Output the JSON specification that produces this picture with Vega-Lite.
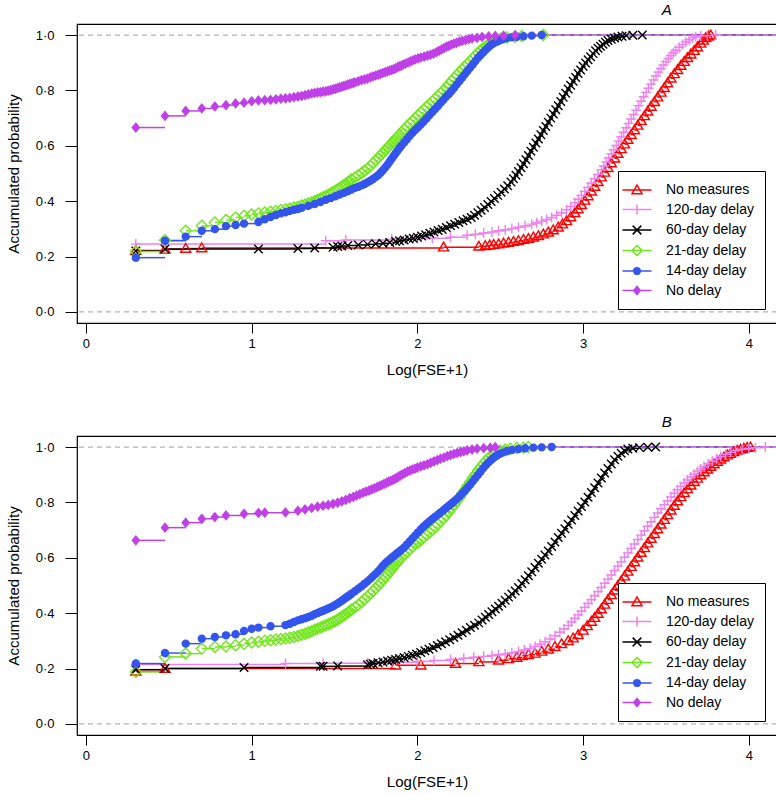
{
"$schema": "https://vega.github.io/schema/vega-lite/v6.json",
"background": "white",
"padding": {"left": 5, "top": 2, "right": 1, "bottom": 2},
"spacing": 113,
"bounds": "flush",
"resolve": {
  "scale": {"color": "independent", "fill": "independent", "shape": "independent", "stroke": "independent"},
  "legend": {"color": "independent", "fill": "independent", "shape": "independent", "stroke": "independent"}
},
"config": {
  "font": "Liberation Sans",
  "view": {"stroke": "black", "strokeWidth": 1.2},
  "axis": {"grid": false, "domain": false, "tickColor": "black", "labelColor": "black", "titleColor": "black", "labelFontSize": 13, "titleFontSize": 15, "titleFontWeight": "normal", "tickWidth": 1}
},
"datasets": {
"a": [
{"s":"nm","x":0.301,"y":0.222},{"s":"nm","x":0.477,"y":0.226},{"s":"nm","x":0.602,"y":0.229},{"s":"nm","x":0.699,"y":0.231},{"s":"nm","x":2.158,"y":0.234},{"s":"nm","x":2.371,"y":0.237},{"s":"nm","x":2.41,"y":0.239},{"s":"nm","x":2.436,"y":0.241},{"s":"nm","x":2.46,"y":0.243},{"s":"nm","x":2.49,"y":0.245},{"s":"nm","x":2.52,"y":0.248},{"s":"nm","x":2.55,"y":0.251},{"s":"nm","x":2.58,"y":0.254},{"s":"nm","x":2.61,"y":0.257},{"s":"nm","x":2.64,"y":0.261},{"s":"nm","x":2.67,"y":0.265},{"s":"nm","x":2.7,"y":0.27},{"s":"nm","x":2.73,"y":0.275},{"s":"nm","x":2.76,"y":0.281},{"s":"nm","x":2.79,"y":0.288},{"s":"nm","x":2.82,"y":0.296},{"s":"nm","x":2.85,"y":0.306},{"s":"nm","x":2.875,"y":0.317},{"s":"nm","x":2.9,"y":0.329},{"s":"nm","x":2.925,"y":0.343},{"s":"nm","x":2.95,"y":0.358},{"s":"nm","x":2.97,"y":0.372},{"s":"nm","x":2.99,"y":0.387},{"s":"nm","x":3.01,"y":0.403},{"s":"nm","x":3.03,"y":0.419},{"s":"nm","x":3.05,"y":0.436},{"s":"nm","x":3.07,"y":0.453},{"s":"nm","x":3.09,"y":0.47},{"s":"nm","x":3.11,"y":0.487},{"s":"nm","x":3.13,"y":0.504},{"s":"nm","x":3.15,"y":0.521},{"s":"nm","x":3.17,"y":0.538},{"s":"nm","x":3.19,"y":0.555},{"s":"nm","x":3.21,"y":0.572},{"s":"nm","x":3.23,"y":0.589},{"s":"nm","x":3.25,"y":0.606},{"s":"nm","x":3.27,"y":0.623},{"s":"nm","x":3.29,"y":0.64},{"s":"nm","x":3.31,"y":0.657},{"s":"nm","x":3.33,"y":0.674},{"s":"nm","x":3.35,"y":0.691},{"s":"nm","x":3.37,"y":0.708},{"s":"nm","x":3.39,"y":0.725},{"s":"nm","x":3.41,"y":0.742},{"s":"nm","x":3.43,"y":0.759},{"s":"nm","x":3.45,"y":0.776},{"s":"nm","x":3.47,"y":0.793},{"s":"nm","x":3.49,"y":0.81},{"s":"nm","x":3.51,"y":0.827},{"s":"nm","x":3.53,"y":0.844},{"s":"nm","x":3.55,"y":0.86},{"s":"nm","x":3.57,"y":0.875},{"s":"nm","x":3.59,"y":0.89},{"s":"nm","x":3.61,"y":0.904},{"s":"nm","x":3.63,"y":0.918},{"s":"nm","x":3.65,"y":0.931},{"s":"nm","x":3.67,"y":0.944},{"s":"nm","x":3.69,"y":0.957},{"s":"nm","x":3.71,"y":0.97},{"s":"nm","x":3.725,"y":0.981},{"s":"nm","x":3.74,"y":0.99},{"s":"nm","x":3.755,"y":0.996},{"s":"nm","x":3.77,"y":1.0},
{"s":"d120","x":0.301,"y":0.245},{"s":"d120","x":1.447,"y":0.257},{"s":"d120","x":1.568,"y":0.26},{"s":"d120","x":1.845,"y":0.263},{"s":"d120","x":2.0,"y":0.265},{"s":"d120","x":2.09,"y":0.266},{"s":"d120","x":2.2,"y":0.27},{"s":"d120","x":2.3,"y":0.277},{"s":"d120","x":2.35,"y":0.281},{"s":"d120","x":2.4,"y":0.285},{"s":"d120","x":2.45,"y":0.289},{"s":"d120","x":2.49,"y":0.293},{"s":"d120","x":2.53,"y":0.297},{"s":"d120","x":2.57,"y":0.301},{"s":"d120","x":2.61,"y":0.306},{"s":"d120","x":2.65,"y":0.311},{"s":"d120","x":2.69,"y":0.317},{"s":"d120","x":2.72,"y":0.322},{"s":"d120","x":2.75,"y":0.328},{"s":"d120","x":2.78,"y":0.334},{"s":"d120","x":2.81,"y":0.341},{"s":"d120","x":2.84,"y":0.349},{"s":"d120","x":2.87,"y":0.358},{"s":"d120","x":2.9,"y":0.369},{"s":"d120","x":2.925,"y":0.381},{"s":"d120","x":2.95,"y":0.394},{"s":"d120","x":2.97,"y":0.407},{"s":"d120","x":2.99,"y":0.421},{"s":"d120","x":3.01,"y":0.435},{"s":"d120","x":3.03,"y":0.45},{"s":"d120","x":3.05,"y":0.465},{"s":"d120","x":3.07,"y":0.481},{"s":"d120","x":3.09,"y":0.497},{"s":"d120","x":3.11,"y":0.513},{"s":"d120","x":3.125,"y":0.527},{"s":"d120","x":3.14,"y":0.541},{"s":"d120","x":3.155,"y":0.556},{"s":"d120","x":3.17,"y":0.571},{"s":"d120","x":3.185,"y":0.586},{"s":"d120","x":3.2,"y":0.601},{"s":"d120","x":3.215,"y":0.617},{"s":"d120","x":3.23,"y":0.633},{"s":"d120","x":3.245,"y":0.649},{"s":"d120","x":3.26,"y":0.665},{"s":"d120","x":3.275,"y":0.681},{"s":"d120","x":3.29,"y":0.697},{"s":"d120","x":3.305,"y":0.713},{"s":"d120","x":3.32,"y":0.729},{"s":"d120","x":3.335,"y":0.745},{"s":"d120","x":3.35,"y":0.761},{"s":"d120","x":3.365,"y":0.777},{"s":"d120","x":3.38,"y":0.793},{"s":"d120","x":3.395,"y":0.808},{"s":"d120","x":3.41,"y":0.823},{"s":"d120","x":3.425,"y":0.838},{"s":"d120","x":3.44,"y":0.852},{"s":"d120","x":3.455,"y":0.866},{"s":"d120","x":3.47,"y":0.879},{"s":"d120","x":3.485,"y":0.892},{"s":"d120","x":3.5,"y":0.904},{"s":"d120","x":3.515,"y":0.915},{"s":"d120","x":3.53,"y":0.926},{"s":"d120","x":3.545,"y":0.936},{"s":"d120","x":3.56,"y":0.945},{"s":"d120","x":3.58,"y":0.956},{"s":"d120","x":3.6,"y":0.966},{"s":"d120","x":3.62,"y":0.975},{"s":"d120","x":3.64,"y":0.983},{"s":"d120","x":3.66,"y":0.989},{"s":"d120","x":3.68,"y":0.994},{"s":"d120","x":3.71,"y":0.997},{"s":"d120","x":3.75,"y":0.998},{"s":"d120","x":3.8,"y":1.0},
{"s":"d60","x":0.301,"y":0.22},{"s":"d60","x":0.477,"y":0.227},{"s":"d60","x":1.041,"y":0.227},{"s":"d60","x":1.279,"y":0.229},{"s":"d60","x":1.38,"y":0.231},{"s":"d60","x":1.491,"y":0.234},{"s":"d60","x":1.519,"y":0.236},{"s":"d60","x":1.544,"y":0.238},{"s":"d60","x":1.58,"y":0.24},{"s":"d60","x":1.643,"y":0.242},{"s":"d60","x":1.699,"y":0.244},{"s":"d60","x":1.748,"y":0.246},{"s":"d60","x":1.792,"y":0.248},{"s":"d60","x":1.833,"y":0.251},{"s":"d60","x":1.869,"y":0.254},{"s":"d60","x":1.892,"y":0.257},{"s":"d60","x":1.92,"y":0.26},{"s":"d60","x":1.95,"y":0.263},{"s":"d60","x":1.975,"y":0.266},{"s":"d60","x":2.0,"y":0.27},{"s":"d60","x":2.025,"y":0.274},{"s":"d60","x":2.05,"y":0.279},{"s":"d60","x":2.075,"y":0.284},{"s":"d60","x":2.1,"y":0.289},{"s":"d60","x":2.125,"y":0.294},{"s":"d60","x":2.15,"y":0.299},{"s":"d60","x":2.175,"y":0.305},{"s":"d60","x":2.2,"y":0.311},{"s":"d60","x":2.225,"y":0.317},{"s":"d60","x":2.25,"y":0.323},{"s":"d60","x":2.275,"y":0.329},{"s":"d60","x":2.3,"y":0.335},{"s":"d60","x":2.325,"y":0.341},{"s":"d60","x":2.345,"y":0.349},{"s":"d60","x":2.365,"y":0.358},{"s":"d60","x":2.385,"y":0.367},{"s":"d60","x":2.405,"y":0.377},{"s":"d60","x":2.425,"y":0.388},{"s":"d60","x":2.445,"y":0.399},{"s":"d60","x":2.465,"y":0.41},{"s":"d60","x":2.485,"y":0.421},{"s":"d60","x":2.505,"y":0.432},{"s":"d60","x":2.525,"y":0.444},{"s":"d60","x":2.545,"y":0.456},{"s":"d60","x":2.565,"y":0.469},{"s":"d60","x":2.58,"y":0.481},{"s":"d60","x":2.595,"y":0.494},{"s":"d60","x":2.61,"y":0.507},{"s":"d60","x":2.625,"y":0.521},{"s":"d60","x":2.64,"y":0.535},{"s":"d60","x":2.655,"y":0.55},{"s":"d60","x":2.67,"y":0.565},{"s":"d60","x":2.685,"y":0.58},{"s":"d60","x":2.7,"y":0.595},{"s":"d60","x":2.715,"y":0.61},{"s":"d60","x":2.73,"y":0.625},{"s":"d60","x":2.745,"y":0.64},{"s":"d60","x":2.76,"y":0.655},{"s":"d60","x":2.775,"y":0.67},{"s":"d60","x":2.79,"y":0.685},{"s":"d60","x":2.805,"y":0.7},{"s":"d60","x":2.82,"y":0.715},{"s":"d60","x":2.835,"y":0.73},{"s":"d60","x":2.85,"y":0.745},{"s":"d60","x":2.865,"y":0.76},{"s":"d60","x":2.88,"y":0.775},{"s":"d60","x":2.895,"y":0.79},{"s":"d60","x":2.91,"y":0.805},{"s":"d60","x":2.925,"y":0.819},{"s":"d60","x":2.94,"y":0.833},{"s":"d60","x":2.955,"y":0.847},{"s":"d60","x":2.97,"y":0.861},{"s":"d60","x":2.985,"y":0.874},{"s":"d60","x":3.0,"y":0.887},{"s":"d60","x":3.015,"y":0.899},{"s":"d60","x":3.03,"y":0.911},{"s":"d60","x":3.045,"y":0.922},{"s":"d60","x":3.06,"y":0.933},{"s":"d60","x":3.075,"y":0.943},{"s":"d60","x":3.09,"y":0.952},{"s":"d60","x":3.105,"y":0.96},{"s":"d60","x":3.12,"y":0.967},{"s":"d60","x":3.135,"y":0.974},{"s":"d60","x":3.15,"y":0.98},{"s":"d60","x":3.17,"y":0.985},{"s":"d60","x":3.19,"y":0.989},{"s":"d60","x":3.21,"y":0.993},{"s":"d60","x":3.235,"y":0.996},{"s":"d60","x":3.26,"y":0.998},{"s":"d60","x":3.3,"y":0.999},{"s":"d60","x":3.357,"y":1.0},
{"s":"d21","x":0.301,"y":0.218},{"s":"d21","x":0.477,"y":0.259},{"s":"d21","x":0.602,"y":0.293},{"s":"d21","x":0.699,"y":0.311},{"s":"d21","x":0.778,"y":0.323},{"s":"d21","x":0.845,"y":0.332},{"s":"d21","x":0.903,"y":0.341},{"s":"d21","x":0.954,"y":0.347},{"s":"d21","x":1.0,"y":0.352},{"s":"d21","x":1.041,"y":0.356},{"s":"d21","x":1.079,"y":0.359},{"s":"d21","x":1.114,"y":0.362},{"s":"d21","x":1.146,"y":0.365},{"s":"d21","x":1.176,"y":0.368},{"s":"d21","x":1.204,"y":0.371},{"s":"d21","x":1.23,"y":0.374},{"s":"d21","x":1.255,"y":0.377},{"s":"d21","x":1.279,"y":0.38},{"s":"d21","x":1.301,"y":0.384},{"s":"d21","x":1.322,"y":0.388},{"s":"d21","x":1.342,"y":0.392},{"s":"d21","x":1.362,"y":0.396},{"s":"d21","x":1.38,"y":0.4},{"s":"d21","x":1.398,"y":0.405},{"s":"d21","x":1.415,"y":0.41},{"s":"d21","x":1.431,"y":0.414},{"s":"d21","x":1.447,"y":0.418},{"s":"d21","x":1.462,"y":0.423},{"s":"d21","x":1.477,"y":0.428},{"s":"d21","x":1.491,"y":0.433},{"s":"d21","x":1.505,"y":0.438},{"s":"d21","x":1.519,"y":0.443},{"s":"d21","x":1.531,"y":0.448},{"s":"d21","x":1.544,"y":0.453},{"s":"d21","x":1.556,"y":0.458},{"s":"d21","x":1.568,"y":0.463},{"s":"d21","x":1.58,"y":0.468},{"s":"d21","x":1.591,"y":0.473},{"s":"d21","x":1.602,"y":0.478},{"s":"d21","x":1.623,"y":0.486},{"s":"d21","x":1.643,"y":0.494},{"s":"d21","x":1.663,"y":0.502},{"s":"d21","x":1.681,"y":0.51},{"s":"d21","x":1.699,"y":0.518},{"s":"d21","x":1.716,"y":0.527},{"s":"d21","x":1.732,"y":0.537},{"s":"d21","x":1.748,"y":0.547},{"s":"d21","x":1.763,"y":0.557},{"s":"d21","x":1.778,"y":0.566},{"s":"d21","x":1.792,"y":0.575},{"s":"d21","x":1.806,"y":0.584},{"s":"d21","x":1.82,"y":0.593},{"s":"d21","x":1.833,"y":0.602},{"s":"d21","x":1.845,"y":0.61},{"s":"d21","x":1.857,"y":0.618},{"s":"d21","x":1.869,"y":0.626},{"s":"d21","x":1.881,"y":0.634},{"s":"d21","x":1.892,"y":0.641},{"s":"d21","x":1.903,"y":0.648},{"s":"d21","x":1.92,"y":0.659},{"s":"d21","x":1.937,"y":0.67},{"s":"d21","x":1.954,"y":0.68},{"s":"d21","x":1.97,"y":0.69},{"s":"d21","x":1.987,"y":0.7},{"s":"d21","x":2.004,"y":0.71},{"s":"d21","x":2.021,"y":0.72},{"s":"d21","x":2.038,"y":0.73},{"s":"d21","x":2.055,"y":0.74},{"s":"d21","x":2.072,"y":0.75},{"s":"d21","x":2.09,"y":0.76},{"s":"d21","x":2.107,"y":0.77},{"s":"d21","x":2.124,"y":0.78},{"s":"d21","x":2.14,"y":0.79},{"s":"d21","x":2.157,"y":0.8},{"s":"d21","x":2.173,"y":0.811},{"s":"d21","x":2.19,"y":0.822},{"s":"d21","x":2.206,"y":0.834},{"s":"d21","x":2.222,"y":0.845},{"s":"d21","x":2.238,"y":0.856},{"s":"d21","x":2.254,"y":0.866},{"s":"d21","x":2.27,"y":0.876},{"s":"d21","x":2.286,"y":0.886},{"s":"d21","x":2.302,"y":0.896},{"s":"d21","x":2.318,"y":0.906},{"s":"d21","x":2.334,"y":0.916},{"s":"d21","x":2.35,"y":0.926},{"s":"d21","x":2.366,"y":0.936},{"s":"d21","x":2.382,"y":0.945},{"s":"d21","x":2.398,"y":0.953},{"s":"d21","x":2.414,"y":0.96},{"s":"d21","x":2.43,"y":0.967},{"s":"d21","x":2.446,"y":0.973},{"s":"d21","x":2.462,"y":0.978},{"s":"d21","x":2.478,"y":0.983},{"s":"d21","x":2.5,"y":0.987},{"s":"d21","x":2.54,"y":0.991},{"s":"d21","x":2.59,"y":0.994},{"s":"d21","x":2.63,"y":0.997},{"s":"d21","x":2.76,"y":1.0},
{"s":"d14","x":0.301,"y":0.196},{"s":"d14","x":0.477,"y":0.257},{"s":"d14","x":0.602,"y":0.272},{"s":"d14","x":0.699,"y":0.293},{"s":"d14","x":0.778,"y":0.299},{"s":"d14","x":0.845,"y":0.31},{"s":"d14","x":0.903,"y":0.314},{"s":"d14","x":0.954,"y":0.319},{"s":"d14","x":1.041,"y":0.325},{"s":"d14","x":1.079,"y":0.335},{"s":"d14","x":1.114,"y":0.343},{"s":"d14","x":1.146,"y":0.35},{"s":"d14","x":1.176,"y":0.356},{"s":"d14","x":1.204,"y":0.36},{"s":"d14","x":1.23,"y":0.365},{"s":"d14","x":1.255,"y":0.369},{"s":"d14","x":1.279,"y":0.372},{"s":"d14","x":1.301,"y":0.376},{"s":"d14","x":1.342,"y":0.383},{"s":"d14","x":1.38,"y":0.39},{"s":"d14","x":1.415,"y":0.397},{"s":"d14","x":1.447,"y":0.405},{"s":"d14","x":1.477,"y":0.411},{"s":"d14","x":1.505,"y":0.418},{"s":"d14","x":1.531,"y":0.424},{"s":"d14","x":1.556,"y":0.43},{"s":"d14","x":1.58,"y":0.436},{"s":"d14","x":1.602,"y":0.442},{"s":"d14","x":1.623,"y":0.448},{"s":"d14","x":1.643,"y":0.452},{"s":"d14","x":1.663,"y":0.457},{"s":"d14","x":1.681,"y":0.462},{"s":"d14","x":1.699,"y":0.468},{"s":"d14","x":1.716,"y":0.474},{"s":"d14","x":1.732,"y":0.48},{"s":"d14","x":1.748,"y":0.487},{"s":"d14","x":1.763,"y":0.494},{"s":"d14","x":1.778,"y":0.503},{"s":"d14","x":1.792,"y":0.512},{"s":"d14","x":1.806,"y":0.522},{"s":"d14","x":1.82,"y":0.532},{"s":"d14","x":1.833,"y":0.543},{"s":"d14","x":1.845,"y":0.553},{"s":"d14","x":1.857,"y":0.563},{"s":"d14","x":1.869,"y":0.573},{"s":"d14","x":1.881,"y":0.583},{"s":"d14","x":1.892,"y":0.592},{"s":"d14","x":1.903,"y":0.6},{"s":"d14","x":1.92,"y":0.612},{"s":"d14","x":1.937,"y":0.624},{"s":"d14","x":1.954,"y":0.636},{"s":"d14","x":1.97,"y":0.647},{"s":"d14","x":1.987,"y":0.657},{"s":"d14","x":2.004,"y":0.667},{"s":"d14","x":2.021,"y":0.677},{"s":"d14","x":2.038,"y":0.688},{"s":"d14","x":2.055,"y":0.699},{"s":"d14","x":2.072,"y":0.71},{"s":"d14","x":2.09,"y":0.722},{"s":"d14","x":2.107,"y":0.733},{"s":"d14","x":2.124,"y":0.744},{"s":"d14","x":2.14,"y":0.755},{"s":"d14","x":2.157,"y":0.766},{"s":"d14","x":2.173,"y":0.777},{"s":"d14","x":2.19,"y":0.787},{"s":"d14","x":2.206,"y":0.798},{"s":"d14","x":2.222,"y":0.81},{"s":"d14","x":2.238,"y":0.822},{"s":"d14","x":2.254,"y":0.834},{"s":"d14","x":2.27,"y":0.846},{"s":"d14","x":2.286,"y":0.858},{"s":"d14","x":2.302,"y":0.87},{"s":"d14","x":2.318,"y":0.882},{"s":"d14","x":2.334,"y":0.894},{"s":"d14","x":2.35,"y":0.906},{"s":"d14","x":2.366,"y":0.918},{"s":"d14","x":2.382,"y":0.928},{"s":"d14","x":2.398,"y":0.938},{"s":"d14","x":2.414,"y":0.948},{"s":"d14","x":2.43,"y":0.957},{"s":"d14","x":2.446,"y":0.965},{"s":"d14","x":2.462,"y":0.971},{"s":"d14","x":2.478,"y":0.976},{"s":"d14","x":2.495,"y":0.981},{"s":"d14","x":2.515,"y":0.985},{"s":"d14","x":2.54,"y":0.989},{"s":"d14","x":2.57,"y":0.992},{"s":"d14","x":2.6,"y":0.994},{"s":"d14","x":2.64,"y":0.996},{"s":"d14","x":2.69,"y":0.998},{"s":"d14","x":2.75,"y":1.0},
{"s":"nd","x":0.301,"y":0.666},{"s":"nd","x":0.477,"y":0.708},{"s":"nd","x":0.602,"y":0.726},{"s":"nd","x":0.699,"y":0.735},{"s":"nd","x":0.778,"y":0.742},{"s":"nd","x":0.845,"y":0.747},{"s":"nd","x":0.903,"y":0.753},{"s":"nd","x":0.954,"y":0.756},{"s":"nd","x":1.0,"y":0.761},{"s":"nd","x":1.041,"y":0.764},{"s":"nd","x":1.079,"y":0.765},{"s":"nd","x":1.114,"y":0.766},{"s":"nd","x":1.146,"y":0.768},{"s":"nd","x":1.176,"y":0.77},{"s":"nd","x":1.204,"y":0.771},{"s":"nd","x":1.23,"y":0.773},{"s":"nd","x":1.255,"y":0.776},{"s":"nd","x":1.279,"y":0.778},{"s":"nd","x":1.301,"y":0.78},{"s":"nd","x":1.322,"y":0.783},{"s":"nd","x":1.342,"y":0.786},{"s":"nd","x":1.362,"y":0.789},{"s":"nd","x":1.38,"y":0.791},{"s":"nd","x":1.398,"y":0.793},{"s":"nd","x":1.415,"y":0.794},{"s":"nd","x":1.431,"y":0.796},{"s":"nd","x":1.447,"y":0.797},{"s":"nd","x":1.462,"y":0.799},{"s":"nd","x":1.477,"y":0.801},{"s":"nd","x":1.491,"y":0.804},{"s":"nd","x":1.505,"y":0.806},{"s":"nd","x":1.519,"y":0.809},{"s":"nd","x":1.531,"y":0.811},{"s":"nd","x":1.544,"y":0.814},{"s":"nd","x":1.556,"y":0.816},{"s":"nd","x":1.568,"y":0.818},{"s":"nd","x":1.58,"y":0.821},{"s":"nd","x":1.591,"y":0.823},{"s":"nd","x":1.602,"y":0.825},{"s":"nd","x":1.613,"y":0.827},{"s":"nd","x":1.623,"y":0.829},{"s":"nd","x":1.643,"y":0.833},{"s":"nd","x":1.663,"y":0.837},{"s":"nd","x":1.681,"y":0.84},{"s":"nd","x":1.699,"y":0.843},{"s":"nd","x":1.716,"y":0.847},{"s":"nd","x":1.732,"y":0.851},{"s":"nd","x":1.748,"y":0.854},{"s":"nd","x":1.763,"y":0.857},{"s":"nd","x":1.778,"y":0.86},{"s":"nd","x":1.792,"y":0.863},{"s":"nd","x":1.806,"y":0.866},{"s":"nd","x":1.82,"y":0.869},{"s":"nd","x":1.833,"y":0.872},{"s":"nd","x":1.845,"y":0.874},{"s":"nd","x":1.857,"y":0.877},{"s":"nd","x":1.869,"y":0.88},{"s":"nd","x":1.881,"y":0.884},{"s":"nd","x":1.892,"y":0.887},{"s":"nd","x":1.903,"y":0.89},{"s":"nd","x":1.914,"y":0.893},{"s":"nd","x":1.929,"y":0.897},{"s":"nd","x":1.944,"y":0.901},{"s":"nd","x":1.959,"y":0.905},{"s":"nd","x":1.973,"y":0.909},{"s":"nd","x":1.987,"y":0.912},{"s":"nd","x":2.004,"y":0.916},{"s":"nd","x":2.021,"y":0.919},{"s":"nd","x":2.041,"y":0.922},{"s":"nd","x":2.061,"y":0.926},{"s":"nd","x":2.079,"y":0.929},{"s":"nd","x":2.097,"y":0.933},{"s":"nd","x":2.114,"y":0.938},{"s":"nd","x":2.13,"y":0.943},{"s":"nd","x":2.146,"y":0.948},{"s":"nd","x":2.161,"y":0.953},{"s":"nd","x":2.176,"y":0.958},{"s":"nd","x":2.19,"y":0.961},{"s":"nd","x":2.204,"y":0.965},{"s":"nd","x":2.22,"y":0.969},{"s":"nd","x":2.236,"y":0.972},{"s":"nd","x":2.253,"y":0.976},{"s":"nd","x":2.27,"y":0.979},{"s":"nd","x":2.29,"y":0.982},{"s":"nd","x":2.31,"y":0.985},{"s":"nd","x":2.33,"y":0.988},{"s":"nd","x":2.36,"y":0.99},{"s":"nd","x":2.39,"y":0.993},{"s":"nd","x":2.43,"y":0.995},{"s":"nd","x":2.47,"y":0.997},{"s":"nd","x":2.52,"y":0.998},{"s":"nd","x":2.59,"y":1.0}
],
"b": [
{"s":"nm","x":0.301,"y":0.19},{"s":"nm","x":0.477,"y":0.2},{"s":"nm","x":1.869,"y":0.212},{"s":"nm","x":2.021,"y":0.212},{"s":"nm","x":2.23,"y":0.218},{"s":"nm","x":2.371,"y":0.224},{"s":"nm","x":2.49,"y":0.23},{"s":"nm","x":2.55,"y":0.235},{"s":"nm","x":2.6,"y":0.24},{"s":"nm","x":2.633,"y":0.246},{"s":"nm","x":2.67,"y":0.25},{"s":"nm","x":2.71,"y":0.255},{"s":"nm","x":2.75,"y":0.262},{"s":"nm","x":2.79,"y":0.27},{"s":"nm","x":2.83,"y":0.279},{"s":"nm","x":2.87,"y":0.289},{"s":"nm","x":2.91,"y":0.3},{"s":"nm","x":2.94,"y":0.31},{"s":"nm","x":2.97,"y":0.322},{"s":"nm","x":3.0,"y":0.338},{"s":"nm","x":3.025,"y":0.354},{"s":"nm","x":3.05,"y":0.37},{"s":"nm","x":3.07,"y":0.384},{"s":"nm","x":3.09,"y":0.399},{"s":"nm","x":3.11,"y":0.415},{"s":"nm","x":3.13,"y":0.432},{"s":"nm","x":3.15,"y":0.449},{"s":"nm","x":3.17,"y":0.466},{"s":"nm","x":3.19,"y":0.483},{"s":"nm","x":3.21,"y":0.5},{"s":"nm","x":3.23,"y":0.517},{"s":"nm","x":3.25,"y":0.534},{"s":"nm","x":3.27,"y":0.551},{"s":"nm","x":3.29,"y":0.568},{"s":"nm","x":3.31,"y":0.585},{"s":"nm","x":3.33,"y":0.602},{"s":"nm","x":3.35,"y":0.619},{"s":"nm","x":3.37,"y":0.636},{"s":"nm","x":3.39,"y":0.653},{"s":"nm","x":3.41,"y":0.67},{"s":"nm","x":3.43,"y":0.687},{"s":"nm","x":3.45,"y":0.704},{"s":"nm","x":3.47,"y":0.721},{"s":"nm","x":3.49,"y":0.738},{"s":"nm","x":3.51,"y":0.755},{"s":"nm","x":3.53,"y":0.772},{"s":"nm","x":3.55,"y":0.789},{"s":"nm","x":3.57,"y":0.805},{"s":"nm","x":3.59,"y":0.82},{"s":"nm","x":3.61,"y":0.835},{"s":"nm","x":3.63,"y":0.849},{"s":"nm","x":3.65,"y":0.862},{"s":"nm","x":3.67,"y":0.875},{"s":"nm","x":3.69,"y":0.887},{"s":"nm","x":3.71,"y":0.899},{"s":"nm","x":3.73,"y":0.91},{"s":"nm","x":3.75,"y":0.92},{"s":"nm","x":3.77,"y":0.93},{"s":"nm","x":3.79,"y":0.939},{"s":"nm","x":3.81,"y":0.948},{"s":"nm","x":3.83,"y":0.956},{"s":"nm","x":3.85,"y":0.964},{"s":"nm","x":3.87,"y":0.971},{"s":"nm","x":3.89,"y":0.977},{"s":"nm","x":3.91,"y":0.983},{"s":"nm","x":3.93,"y":0.988},{"s":"nm","x":3.95,"y":0.992},{"s":"nm","x":3.97,"y":0.995},{"s":"nm","x":3.99,"y":0.998},{"s":"nm","x":4.01,"y":1.0},
{"s":"d120","x":0.301,"y":0.215},{"s":"d120","x":1.204,"y":0.218},{"s":"d120","x":1.431,"y":0.219},{"s":"d120","x":1.699,"y":0.221},{"s":"d120","x":1.845,"y":0.223},{"s":"d120","x":2.0,"y":0.226},{"s":"d120","x":2.1,"y":0.229},{"s":"d120","x":2.2,"y":0.233},{"s":"d120","x":2.28,"y":0.237},{"s":"d120","x":2.34,"y":0.241},{"s":"d120","x":2.4,"y":0.244},{"s":"d120","x":2.45,"y":0.247},{"s":"d120","x":2.49,"y":0.25},{"s":"d120","x":2.53,"y":0.253},{"s":"d120","x":2.57,"y":0.257},{"s":"d120","x":2.61,"y":0.262},{"s":"d120","x":2.645,"y":0.267},{"s":"d120","x":2.68,"y":0.273},{"s":"d120","x":2.71,"y":0.28},{"s":"d120","x":2.74,"y":0.288},{"s":"d120","x":2.77,"y":0.297},{"s":"d120","x":2.8,"y":0.307},{"s":"d120","x":2.83,"y":0.318},{"s":"d120","x":2.86,"y":0.331},{"s":"d120","x":2.885,"y":0.343},{"s":"d120","x":2.91,"y":0.356},{"s":"d120","x":2.93,"y":0.368},{"s":"d120","x":2.95,"y":0.381},{"s":"d120","x":2.97,"y":0.394},{"s":"d120","x":2.99,"y":0.407},{"s":"d120","x":3.01,"y":0.421},{"s":"d120","x":3.03,"y":0.435},{"s":"d120","x":3.05,"y":0.449},{"s":"d120","x":3.07,"y":0.463},{"s":"d120","x":3.09,"y":0.478},{"s":"d120","x":3.11,"y":0.493},{"s":"d120","x":3.13,"y":0.508},{"s":"d120","x":3.15,"y":0.523},{"s":"d120","x":3.17,"y":0.538},{"s":"d120","x":3.19,"y":0.554},{"s":"d120","x":3.21,"y":0.57},{"s":"d120","x":3.23,"y":0.586},{"s":"d120","x":3.25,"y":0.602},{"s":"d120","x":3.27,"y":0.618},{"s":"d120","x":3.29,"y":0.634},{"s":"d120","x":3.31,"y":0.65},{"s":"d120","x":3.33,"y":0.666},{"s":"d120","x":3.35,"y":0.682},{"s":"d120","x":3.37,"y":0.698},{"s":"d120","x":3.39,"y":0.714},{"s":"d120","x":3.41,"y":0.73},{"s":"d120","x":3.43,"y":0.746},{"s":"d120","x":3.45,"y":0.762},{"s":"d120","x":3.47,"y":0.777},{"s":"d120","x":3.49,"y":0.792},{"s":"d120","x":3.51,"y":0.806},{"s":"d120","x":3.53,"y":0.82},{"s":"d120","x":3.55,"y":0.833},{"s":"d120","x":3.57,"y":0.846},{"s":"d120","x":3.59,"y":0.858},{"s":"d120","x":3.61,"y":0.87},{"s":"d120","x":3.63,"y":0.881},{"s":"d120","x":3.65,"y":0.892},{"s":"d120","x":3.67,"y":0.902},{"s":"d120","x":3.69,"y":0.912},{"s":"d120","x":3.71,"y":0.921},{"s":"d120","x":3.73,"y":0.93},{"s":"d120","x":3.755,"y":0.94},{"s":"d120","x":3.78,"y":0.949},{"s":"d120","x":3.805,"y":0.958},{"s":"d120","x":3.83,"y":0.966},{"s":"d120","x":3.86,"y":0.974},{"s":"d120","x":3.89,"y":0.981},{"s":"d120","x":3.92,"y":0.987},{"s":"d120","x":3.96,"y":0.992},{"s":"d120","x":4.0,"y":0.995},{"s":"d120","x":4.04,"y":0.998},{"s":"d120","x":4.1,"y":1.0},
{"s":"d60","x":0.301,"y":0.196},{"s":"d60","x":0.477,"y":0.2},{"s":"d60","x":0.954,"y":0.204},{"s":"d60","x":1.415,"y":0.208},{"s":"d60","x":1.431,"y":0.208},{"s":"d60","x":1.519,"y":0.209},{"s":"d60","x":1.699,"y":0.214},{"s":"d60","x":1.716,"y":0.216},{"s":"d60","x":1.732,"y":0.218},{"s":"d60","x":1.763,"y":0.221},{"s":"d60","x":1.792,"y":0.224},{"s":"d60","x":1.82,"y":0.227},{"s":"d60","x":1.845,"y":0.23},{"s":"d60","x":1.869,"y":0.233},{"s":"d60","x":1.892,"y":0.236},{"s":"d60","x":1.92,"y":0.24},{"s":"d60","x":1.945,"y":0.244},{"s":"d60","x":1.97,"y":0.248},{"s":"d60","x":1.995,"y":0.253},{"s":"d60","x":2.02,"y":0.258},{"s":"d60","x":2.045,"y":0.264},{"s":"d60","x":2.07,"y":0.27},{"s":"d60","x":2.095,"y":0.276},{"s":"d60","x":2.12,"y":0.283},{"s":"d60","x":2.145,"y":0.29},{"s":"d60","x":2.17,"y":0.297},{"s":"d60","x":2.195,"y":0.304},{"s":"d60","x":2.22,"y":0.312},{"s":"d60","x":2.245,"y":0.32},{"s":"d60","x":2.27,"y":0.329},{"s":"d60","x":2.295,"y":0.338},{"s":"d60","x":2.32,"y":0.348},{"s":"d60","x":2.345,"y":0.356},{"s":"d60","x":2.37,"y":0.365},{"s":"d60","x":2.39,"y":0.375},{"s":"d60","x":2.41,"y":0.385},{"s":"d60","x":2.43,"y":0.395},{"s":"d60","x":2.45,"y":0.405},{"s":"d60","x":2.47,"y":0.415},{"s":"d60","x":2.49,"y":0.425},{"s":"d60","x":2.51,"y":0.436},{"s":"d60","x":2.53,"y":0.447},{"s":"d60","x":2.55,"y":0.458},{"s":"d60","x":2.57,"y":0.469},{"s":"d60","x":2.59,"y":0.48},{"s":"d60","x":2.61,"y":0.493},{"s":"d60","x":2.63,"y":0.507},{"s":"d60","x":2.65,"y":0.521},{"s":"d60","x":2.67,"y":0.535},{"s":"d60","x":2.69,"y":0.55},{"s":"d60","x":2.71,"y":0.565},{"s":"d60","x":2.73,"y":0.58},{"s":"d60","x":2.75,"y":0.595},{"s":"d60","x":2.77,"y":0.61},{"s":"d60","x":2.79,"y":0.625},{"s":"d60","x":2.81,"y":0.641},{"s":"d60","x":2.83,"y":0.657},{"s":"d60","x":2.85,"y":0.673},{"s":"d60","x":2.87,"y":0.689},{"s":"d60","x":2.89,"y":0.705},{"s":"d60","x":2.91,"y":0.721},{"s":"d60","x":2.93,"y":0.737},{"s":"d60","x":2.95,"y":0.753},{"s":"d60","x":2.97,"y":0.769},{"s":"d60","x":2.99,"y":0.785},{"s":"d60","x":3.01,"y":0.802},{"s":"d60","x":3.03,"y":0.819},{"s":"d60","x":3.05,"y":0.836},{"s":"d60","x":3.07,"y":0.853},{"s":"d60","x":3.09,"y":0.87},{"s":"d60","x":3.11,"y":0.888},{"s":"d60","x":3.13,"y":0.906},{"s":"d60","x":3.15,"y":0.923},{"s":"d60","x":3.17,"y":0.939},{"s":"d60","x":3.19,"y":0.954},{"s":"d60","x":3.21,"y":0.967},{"s":"d60","x":3.23,"y":0.978},{"s":"d60","x":3.25,"y":0.987},{"s":"d60","x":3.27,"y":0.993},{"s":"d60","x":3.3,"y":0.996},{"s":"d60","x":3.34,"y":0.998},{"s":"d60","x":3.39,"y":0.999},{"s":"d60","x":3.438,"y":1.0},
{"s":"d21","x":0.301,"y":0.188},{"s":"d21","x":0.477,"y":0.242},{"s":"d21","x":0.602,"y":0.254},{"s":"d21","x":0.699,"y":0.272},{"s":"d21","x":0.778,"y":0.278},{"s":"d21","x":0.845,"y":0.28},{"s":"d21","x":0.903,"y":0.284},{"s":"d21","x":0.954,"y":0.29},{"s":"d21","x":1.0,"y":0.294},{"s":"d21","x":1.041,"y":0.297},{"s":"d21","x":1.079,"y":0.3},{"s":"d21","x":1.114,"y":0.302},{"s":"d21","x":1.146,"y":0.305},{"s":"d21","x":1.176,"y":0.307},{"s":"d21","x":1.204,"y":0.309},{"s":"d21","x":1.23,"y":0.311},{"s":"d21","x":1.255,"y":0.314},{"s":"d21","x":1.279,"y":0.318},{"s":"d21","x":1.301,"y":0.322},{"s":"d21","x":1.322,"y":0.326},{"s":"d21","x":1.342,"y":0.33},{"s":"d21","x":1.362,"y":0.335},{"s":"d21","x":1.38,"y":0.34},{"s":"d21","x":1.398,"y":0.344},{"s":"d21","x":1.415,"y":0.348},{"s":"d21","x":1.431,"y":0.352},{"s":"d21","x":1.447,"y":0.356},{"s":"d21","x":1.462,"y":0.36},{"s":"d21","x":1.477,"y":0.364},{"s":"d21","x":1.491,"y":0.368},{"s":"d21","x":1.505,"y":0.372},{"s":"d21","x":1.519,"y":0.377},{"s":"d21","x":1.531,"y":0.382},{"s":"d21","x":1.544,"y":0.387},{"s":"d21","x":1.556,"y":0.392},{"s":"d21","x":1.568,"y":0.397},{"s":"d21","x":1.58,"y":0.402},{"s":"d21","x":1.591,"y":0.407},{"s":"d21","x":1.602,"y":0.412},{"s":"d21","x":1.623,"y":0.421},{"s":"d21","x":1.643,"y":0.43},{"s":"d21","x":1.663,"y":0.44},{"s":"d21","x":1.681,"y":0.45},{"s":"d21","x":1.699,"y":0.46},{"s":"d21","x":1.716,"y":0.47},{"s":"d21","x":1.732,"y":0.48},{"s":"d21","x":1.748,"y":0.49},{"s":"d21","x":1.763,"y":0.5},{"s":"d21","x":1.778,"y":0.51},{"s":"d21","x":1.792,"y":0.52},{"s":"d21","x":1.806,"y":0.53},{"s":"d21","x":1.82,"y":0.54},{"s":"d21","x":1.833,"y":0.55},{"s":"d21","x":1.845,"y":0.559},{"s":"d21","x":1.857,"y":0.568},{"s":"d21","x":1.869,"y":0.577},{"s":"d21","x":1.881,"y":0.585},{"s":"d21","x":1.892,"y":0.593},{"s":"d21","x":1.903,"y":0.6},{"s":"d21","x":1.92,"y":0.61},{"s":"d21","x":1.937,"y":0.62},{"s":"d21","x":1.954,"y":0.63},{"s":"d21","x":1.97,"y":0.64},{"s":"d21","x":1.987,"y":0.65},{"s":"d21","x":2.004,"y":0.655},{"s":"d21","x":2.021,"y":0.664},{"s":"d21","x":2.038,"y":0.673},{"s":"d21","x":2.055,"y":0.682},{"s":"d21","x":2.072,"y":0.691},{"s":"d21","x":2.09,"y":0.7},{"s":"d21","x":2.107,"y":0.71},{"s":"d21","x":2.124,"y":0.72},{"s":"d21","x":2.14,"y":0.731},{"s":"d21","x":2.157,"y":0.742},{"s":"d21","x":2.173,"y":0.753},{"s":"d21","x":2.19,"y":0.766},{"s":"d21","x":2.206,"y":0.779},{"s":"d21","x":2.222,"y":0.792},{"s":"d21","x":2.238,"y":0.805},{"s":"d21","x":2.254,"y":0.818},{"s":"d21","x":2.27,"y":0.832},{"s":"d21","x":2.286,"y":0.846},{"s":"d21","x":2.302,"y":0.86},{"s":"d21","x":2.318,"y":0.874},{"s":"d21","x":2.334,"y":0.888},{"s":"d21","x":2.35,"y":0.902},{"s":"d21","x":2.366,"y":0.915},{"s":"d21","x":2.382,"y":0.928},{"s":"d21","x":2.398,"y":0.94},{"s":"d21","x":2.414,"y":0.951},{"s":"d21","x":2.43,"y":0.961},{"s":"d21","x":2.446,"y":0.969},{"s":"d21","x":2.462,"y":0.976},{"s":"d21","x":2.478,"y":0.982},{"s":"d21","x":2.5,"y":0.987},{"s":"d21","x":2.53,"y":0.991},{"s":"d21","x":2.56,"y":0.994},{"s":"d21","x":2.6,"y":0.997},{"s":"d21","x":2.64,"y":0.998},{"s":"d21","x":2.67,"y":1.0},
{"s":"d14","x":0.301,"y":0.218},{"s":"d14","x":0.477,"y":0.256},{"s":"d14","x":0.602,"y":0.29},{"s":"d14","x":0.699,"y":0.308},{"s":"d14","x":0.778,"y":0.314},{"s":"d14","x":0.845,"y":0.32},{"s":"d14","x":0.903,"y":0.324},{"s":"d14","x":0.954,"y":0.336},{"s":"d14","x":1.0,"y":0.344},{"s":"d14","x":1.041,"y":0.348},{"s":"d14","x":1.114,"y":0.353},{"s":"d14","x":1.204,"y":0.357},{"s":"d14","x":1.23,"y":0.362},{"s":"d14","x":1.255,"y":0.368},{"s":"d14","x":1.279,"y":0.374},{"s":"d14","x":1.301,"y":0.378},{"s":"d14","x":1.322,"y":0.382},{"s":"d14","x":1.342,"y":0.386},{"s":"d14","x":1.362,"y":0.391},{"s":"d14","x":1.38,"y":0.396},{"s":"d14","x":1.398,"y":0.401},{"s":"d14","x":1.415,"y":0.405},{"s":"d14","x":1.431,"y":0.409},{"s":"d14","x":1.447,"y":0.413},{"s":"d14","x":1.462,"y":0.417},{"s":"d14","x":1.477,"y":0.421},{"s":"d14","x":1.491,"y":0.425},{"s":"d14","x":1.505,"y":0.43},{"s":"d14","x":1.519,"y":0.435},{"s":"d14","x":1.531,"y":0.44},{"s":"d14","x":1.544,"y":0.445},{"s":"d14","x":1.556,"y":0.45},{"s":"d14","x":1.568,"y":0.456},{"s":"d14","x":1.58,"y":0.46},{"s":"d14","x":1.591,"y":0.465},{"s":"d14","x":1.602,"y":0.47},{"s":"d14","x":1.623,"y":0.479},{"s":"d14","x":1.643,"y":0.488},{"s":"d14","x":1.663,"y":0.497},{"s":"d14","x":1.681,"y":0.506},{"s":"d14","x":1.699,"y":0.515},{"s":"d14","x":1.716,"y":0.524},{"s":"d14","x":1.732,"y":0.533},{"s":"d14","x":1.748,"y":0.542},{"s":"d14","x":1.763,"y":0.551},{"s":"d14","x":1.778,"y":0.561},{"s":"d14","x":1.792,"y":0.571},{"s":"d14","x":1.806,"y":0.58},{"s":"d14","x":1.82,"y":0.588},{"s":"d14","x":1.833,"y":0.594},{"s":"d14","x":1.845,"y":0.6},{"s":"d14","x":1.857,"y":0.606},{"s":"d14","x":1.869,"y":0.612},{"s":"d14","x":1.881,"y":0.618},{"s":"d14","x":1.892,"y":0.623},{"s":"d14","x":1.903,"y":0.628},{"s":"d14","x":1.92,"y":0.637},{"s":"d14","x":1.937,"y":0.648},{"s":"d14","x":1.954,"y":0.659},{"s":"d14","x":1.97,"y":0.67},{"s":"d14","x":1.987,"y":0.681},{"s":"d14","x":2.004,"y":0.692},{"s":"d14","x":2.021,"y":0.703},{"s":"d14","x":2.038,"y":0.713},{"s":"d14","x":2.055,"y":0.722},{"s":"d14","x":2.072,"y":0.731},{"s":"d14","x":2.09,"y":0.74},{"s":"d14","x":2.107,"y":0.748},{"s":"d14","x":2.124,"y":0.756},{"s":"d14","x":2.14,"y":0.764},{"s":"d14","x":2.157,"y":0.772},{"s":"d14","x":2.173,"y":0.78},{"s":"d14","x":2.19,"y":0.788},{"s":"d14","x":2.206,"y":0.796},{"s":"d14","x":2.222,"y":0.804},{"s":"d14","x":2.238,"y":0.813},{"s":"d14","x":2.254,"y":0.822},{"s":"d14","x":2.27,"y":0.832},{"s":"d14","x":2.286,"y":0.842},{"s":"d14","x":2.302,"y":0.853},{"s":"d14","x":2.318,"y":0.864},{"s":"d14","x":2.334,"y":0.876},{"s":"d14","x":2.35,"y":0.888},{"s":"d14","x":2.366,"y":0.9},{"s":"d14","x":2.382,"y":0.912},{"s":"d14","x":2.398,"y":0.924},{"s":"d14","x":2.414,"y":0.935},{"s":"d14","x":2.43,"y":0.945},{"s":"d14","x":2.446,"y":0.954},{"s":"d14","x":2.462,"y":0.962},{"s":"d14","x":2.478,"y":0.969},{"s":"d14","x":2.495,"y":0.975},{"s":"d14","x":2.515,"y":0.98},{"s":"d14","x":2.54,"y":0.985},{"s":"d14","x":2.57,"y":0.989},{"s":"d14","x":2.61,"y":0.993},{"s":"d14","x":2.65,"y":0.996},{"s":"d14","x":2.7,"y":0.998},{"s":"d14","x":2.75,"y":0.999},{"s":"d14","x":2.81,"y":1.0},
{"s":"nd","x":0.301,"y":0.663},{"s":"nd","x":0.477,"y":0.709},{"s":"nd","x":0.602,"y":0.727},{"s":"nd","x":0.699,"y":0.741},{"s":"nd","x":0.778,"y":0.747},{"s":"nd","x":0.845,"y":0.753},{"s":"nd","x":0.954,"y":0.759},{"s":"nd","x":1.041,"y":0.762},{"s":"nd","x":1.079,"y":0.763},{"s":"nd","x":1.204,"y":0.764},{"s":"nd","x":1.279,"y":0.77},{"s":"nd","x":1.322,"y":0.775},{"s":"nd","x":1.362,"y":0.78},{"s":"nd","x":1.398,"y":0.785},{"s":"nd","x":1.431,"y":0.788},{"s":"nd","x":1.462,"y":0.791},{"s":"nd","x":1.491,"y":0.795},{"s":"nd","x":1.519,"y":0.799},{"s":"nd","x":1.544,"y":0.804},{"s":"nd","x":1.568,"y":0.809},{"s":"nd","x":1.591,"y":0.815},{"s":"nd","x":1.613,"y":0.82},{"s":"nd","x":1.633,"y":0.825},{"s":"nd","x":1.653,"y":0.83},{"s":"nd","x":1.672,"y":0.835},{"s":"nd","x":1.69,"y":0.839},{"s":"nd","x":1.708,"y":0.843},{"s":"nd","x":1.724,"y":0.847},{"s":"nd","x":1.74,"y":0.851},{"s":"nd","x":1.756,"y":0.855},{"s":"nd","x":1.771,"y":0.859},{"s":"nd","x":1.785,"y":0.863},{"s":"nd","x":1.799,"y":0.867},{"s":"nd","x":1.813,"y":0.871},{"s":"nd","x":1.826,"y":0.875},{"s":"nd","x":1.839,"y":0.878},{"s":"nd","x":1.851,"y":0.881},{"s":"nd","x":1.863,"y":0.885},{"s":"nd","x":1.875,"y":0.889},{"s":"nd","x":1.886,"y":0.893},{"s":"nd","x":1.897,"y":0.897},{"s":"nd","x":1.908,"y":0.901},{"s":"nd","x":1.924,"y":0.906},{"s":"nd","x":1.94,"y":0.911},{"s":"nd","x":1.955,"y":0.915},{"s":"nd","x":1.97,"y":0.919},{"s":"nd","x":1.985,"y":0.922},{"s":"nd","x":2.0,"y":0.926},{"s":"nd","x":2.02,"y":0.93},{"s":"nd","x":2.04,"y":0.934},{"s":"nd","x":2.06,"y":0.938},{"s":"nd","x":2.08,"y":0.943},{"s":"nd","x":2.1,"y":0.948},{"s":"nd","x":2.12,"y":0.953},{"s":"nd","x":2.14,"y":0.958},{"s":"nd","x":2.16,"y":0.962},{"s":"nd","x":2.18,"y":0.967},{"s":"nd","x":2.2,"y":0.971},{"s":"nd","x":2.22,"y":0.975},{"s":"nd","x":2.24,"y":0.979},{"s":"nd","x":2.26,"y":0.982},{"s":"nd","x":2.28,"y":0.985},{"s":"nd","x":2.3,"y":0.988},{"s":"nd","x":2.33,"y":0.991},{"s":"nd","x":2.36,"y":0.994},{"s":"nd","x":2.4,"y":0.996},{"s":"nd","x":2.44,"y":0.998},{"s":"nd","x":2.47,"y":1.0}
]
},
"vconcat": [
{
  "width": 700, "height": 299,
  "data": {"name": "a"},
  "title": {"text": "A", "anchor": "end", "dx": -106, "fontStyle": "italic", "fontSize": 15, "fontWeight": "normal", "offset": 6, "color": "black"},
  "layer": [
    {"transform": [{"window": [{"op": "lead", "field": "x", "as": "xn"}], "groupby": ["s"], "sort": [{"field": "x", "order": "ascending"}]}, {"filter": "datum.xn != null"}],
     "mark": {"type": "rule", "strokeWidth": 1.5},
     "encoding": {
       "x": {"field": "x", "type": "quantitative", "scale": {"domain": [-0.054, 4.17], "nice": false, "zero": false}, "axis": {"title": "Log(FSE+1)", "values": [0, 1, 2, 3, 4], "format": "d", "tickSize": 10, "labelPadding": 4, "titlePadding": 12, "labelFlush": false}},
       "x2": {"field": "xn"},
       "y": {"field": "y", "type": "quantitative", "scale": {"domain": [-0.04, 1.04], "nice": false, "zero": false}, "axis": {"title": "Accumulated probability", "values": [0, 0.2, 0.4, 0.6, 0.8, 1], "tickSize": 12, "labelPadding": 11, "titlePadding": 14, "labelExpr": "replace(format(datum.value, '.1f'), '.', '·')"}},
       "stroke": {"field": "s", "type": "nominal", "scale": {"domain": ["nm", "d120", "d60", "d21", "d14", "nd", "zz"], "range": ["#FF0000", "#EE82EE", "#000000", "#70E81A", "#3355EE", "#C040E8", "#000000"]}, "legend": null}
     }},
    {"transform": [{"aggregate": [{"op": "max", "field": "x", "as": "x1"}, {"op": "max", "field": "y", "as": "y1"}], "groupby": ["s"]}],
     "mark": {"type": "rule", "strokeWidth": 1.5},
     "encoding": {"x": {"field": "x1", "type": "quantitative"}, "x2": {"value": "width"}, "y": {"field": "y1", "type": "quantitative"}, "stroke": {"field": "s", "type": "nominal", "legend": null}}},
    {"data": {"values": [{"v": 0}, {"v": 1}]},
     "mark": {"type": "rule", "color": "#B3B3B3", "strokeDash": [5, 4], "strokeWidth": 1.2},
     "encoding": {"y": {"field": "v", "type": "quantitative"}}},
    {"transform": [{"filter": "datum.s == 'nm'"}], "mark": {"type": "point", "shape": "M0,-1L1,0.75L-1,0.75Z", "size": 100, "stroke": "#FF0000", "fill": "transparent", "strokeWidth": 1.4, "opacity": 1}, "encoding": {"x": {"field": "x", "type": "quantitative"}, "y": {"field": "y", "type": "quantitative"}}},
    {"transform": [{"filter": "datum.s == 'd120'"}], "mark": {"type": "point", "shape": "M-1,0H1M0,-1V1", "size": 100, "stroke": "#EE82EE", "fill": "transparent", "strokeWidth": 1.4, "opacity": 1}, "encoding": {"x": {"field": "x", "type": "quantitative"}, "y": {"field": "y", "type": "quantitative"}}},
    {"transform": [{"filter": "datum.s == 'd60'"}], "mark": {"type": "point", "shape": "M-0.85,-0.85L0.85,0.85M-0.85,0.85L0.85,-0.85", "size": 100, "stroke": "#000000", "fill": "transparent", "strokeWidth": 1.4, "opacity": 1}, "encoding": {"x": {"field": "x", "type": "quantitative"}, "y": {"field": "y", "type": "quantitative"}}},
    {"transform": [{"filter": "datum.s == 'd21'"}], "mark": {"type": "point", "shape": "M0,-1.1L1.1,0L0,1.1L-1.1,0Z", "size": 100, "stroke": "#70E81A", "fill": "transparent", "strokeWidth": 1.4, "opacity": 1}, "encoding": {"x": {"field": "x", "type": "quantitative"}, "y": {"field": "y", "type": "quantitative"}}},
    {"transform": [{"filter": "datum.s == 'd14'"}], "mark": {"type": "point", "shape": "M0.7,0A0.7,0.7,0,1,1,-0.7,0A0.7,0.7,0,1,1,0.7,0Z", "size": 100, "stroke": "#3355EE", "fill": "#3355EE", "strokeWidth": 1.4, "opacity": 1}, "encoding": {"x": {"field": "x", "type": "quantitative"}, "y": {"field": "y", "type": "quantitative"}}},
    {"transform": [{"filter": "datum.s == 'nd'"}], "mark": {"type": "point", "shape": "M0,-0.85L0.7,0L0,0.85L-0.7,0Z", "size": 100, "stroke": "#C040E8", "fill": "#C040E8", "strokeWidth": 1.4, "opacity": 1}, "encoding": {"x": {"field": "x", "type": "quantitative"}, "y": {"field": "y", "type": "quantitative"}}},
    {"transform": [{"filter": "datum.x < -5"}],
     "mark": {"type": "point", "opacity": 1},
     "encoding": {
       "x": {"field": "x", "type": "quantitative"},
       "y": {"field": "y", "type": "quantitative"},
       "shape": {"field": "s", "type": "nominal", "scale": {"domain": ["nm", "d120", "d60", "d21", "d14", "nd"], "range": ["M-2,0H2M0,-0.69L0.69,0.52L-0.69,0.52Z", "M-2,0H2M-0.69,0H0.69M0,-0.69V0.69", "M-2,0H2M-0.6,-0.6L0.6,0.6M-0.6,0.6L0.6,-0.6", "M-2,0H2M0,-0.69L0.69,0L0,0.69L-0.69,0Z", "M-2,0H2M0.46,0A0.46,0.46,0,1,1,-0.46,0A0.46,0.46,0,1,1,0.46,0Z", "M-2,0H2M0,-0.55L0.45,0L0,0.55L-0.45,0Z"]},
         "legend": {"orient": "none", "legendX": 541, "legendY": 147, "title": null, "symbolSize": 210, "symbolStrokeWidth": 1.5, "symbolOpacity": 1, "labelFontSize": 14, "labelFont": "Liberation Sans", "labelColor": "black", "padding": 11, "rowPadding": 4.5, "labelOffset": 21, "strokeColor": "black", "fillColor": "white", "labelExpr": "datum.label == 'nm' ? 'No measures' : datum.label == 'd120' ? '120-day delay' : datum.label == 'd60' ? '60-day delay' : datum.label == 'd21' ? '21-day delay' : datum.label == 'd14' ? '14-day delay' : 'No delay'"}},
       "fill": {"field": "s", "type": "nominal", "scale": {"domain": ["nm", "d120", "d60", "d21", "d14", "nd"], "range": ["white", "transparent", "transparent", "white", "#3355EE", "#C040E8"]},
         "legend": {"orient": "none", "legendX": 541, "legendY": 147, "title": null, "symbolSize": 210, "symbolStrokeWidth": 1.5, "symbolOpacity": 1, "labelFontSize": 14, "labelFont": "Liberation Sans", "labelColor": "black", "padding": 11, "rowPadding": 4.5, "labelOffset": 21, "strokeColor": "black", "fillColor": "white", "labelExpr": "datum.label == 'nm' ? 'No measures' : datum.label == 'd120' ? '120-day delay' : datum.label == 'd60' ? '60-day delay' : datum.label == 'd21' ? '21-day delay' : datum.label == 'd14' ? '14-day delay' : 'No delay'"}},
       "color": {"field": "s", "type": "nominal", "scale": {"domain": ["nm", "d120", "d60", "d21", "d14", "nd"], "range": ["#FF0000", "#EE82EE", "#000000", "#70E81A", "#3355EE", "#C040E8"]},
         "legend": {"orient": "none", "legendX": 541, "legendY": 147, "title": null, "symbolSize": 210, "symbolStrokeWidth": 1.5, "symbolOpacity": 1, "labelFontSize": 14, "labelFont": "Liberation Sans", "labelColor": "black", "padding": 11, "rowPadding": 4.5, "labelOffset": 21, "strokeColor": "black", "fillColor": "white", "labelExpr": "datum.label == 'nm' ? 'No measures' : datum.label == 'd120' ? '120-day delay' : datum.label == 'd60' ? '60-day delay' : datum.label == 'd21' ? '21-day delay' : datum.label == 'd14' ? '14-day delay' : 'No delay'"}}
     }}
  ]
},
{
  "width": 700, "height": 299,
  "data": {"name": "b"},
  "title": {"text": "B", "anchor": "end", "dx": -106, "fontStyle": "italic", "fontSize": 15, "fontWeight": "normal", "offset": 6, "color": "black"},
  "layer": [
    {"transform": [{"window": [{"op": "lead", "field": "x", "as": "xn"}], "groupby": ["s"], "sort": [{"field": "x", "order": "ascending"}]}, {"filter": "datum.xn != null"}],
     "mark": {"type": "rule", "strokeWidth": 1.5},
     "encoding": {
       "x": {"field": "x", "type": "quantitative", "scale": {"domain": [-0.054, 4.17], "nice": false, "zero": false}, "axis": {"title": "Log(FSE+1)", "values": [0, 1, 2, 3, 4], "format": "d", "tickSize": 10, "labelPadding": 4, "titlePadding": 12, "labelFlush": false}},
       "x2": {"field": "xn"},
       "y": {"field": "y", "type": "quantitative", "scale": {"domain": [-0.04, 1.04], "nice": false, "zero": false}, "axis": {"title": "Accumulated probability", "values": [0, 0.2, 0.4, 0.6, 0.8, 1], "tickSize": 12, "labelPadding": 11, "titlePadding": 14, "labelExpr": "replace(format(datum.value, '.1f'), '.', '·')"}},
       "stroke": {"field": "s", "type": "nominal", "scale": {"domain": ["nm", "d120", "d60", "d21", "d14", "nd", "zz"], "range": ["#FF0000", "#EE82EE", "#000000", "#70E81A", "#3355EE", "#C040E8", "#000000"]}, "legend": null}
     }},
    {"transform": [{"aggregate": [{"op": "max", "field": "x", "as": "x1"}, {"op": "max", "field": "y", "as": "y1"}], "groupby": ["s"]}],
     "mark": {"type": "rule", "strokeWidth": 1.5},
     "encoding": {"x": {"field": "x1", "type": "quantitative"}, "x2": {"value": "width"}, "y": {"field": "y1", "type": "quantitative"}, "stroke": {"field": "s", "type": "nominal", "legend": null}}},
    {"data": {"values": [{"v": 0}, {"v": 1}]},
     "mark": {"type": "rule", "color": "#B3B3B3", "strokeDash": [5, 4], "strokeWidth": 1.2},
     "encoding": {"y": {"field": "v", "type": "quantitative"}}},
    {"transform": [{"filter": "datum.s == 'nm'"}], "mark": {"type": "point", "shape": "M0,-1L1,0.75L-1,0.75Z", "size": 100, "stroke": "#FF0000", "fill": "transparent", "strokeWidth": 1.4, "opacity": 1}, "encoding": {"x": {"field": "x", "type": "quantitative"}, "y": {"field": "y", "type": "quantitative"}}},
    {"transform": [{"filter": "datum.s == 'd120'"}], "mark": {"type": "point", "shape": "M-1,0H1M0,-1V1", "size": 100, "stroke": "#EE82EE", "fill": "transparent", "strokeWidth": 1.4, "opacity": 1}, "encoding": {"x": {"field": "x", "type": "quantitative"}, "y": {"field": "y", "type": "quantitative"}}},
    {"transform": [{"filter": "datum.s == 'd60'"}], "mark": {"type": "point", "shape": "M-0.85,-0.85L0.85,0.85M-0.85,0.85L0.85,-0.85", "size": 100, "stroke": "#000000", "fill": "transparent", "strokeWidth": 1.4, "opacity": 1}, "encoding": {"x": {"field": "x", "type": "quantitative"}, "y": {"field": "y", "type": "quantitative"}}},
    {"transform": [{"filter": "datum.s == 'd21'"}], "mark": {"type": "point", "shape": "M0,-1.1L1.1,0L0,1.1L-1.1,0Z", "size": 100, "stroke": "#70E81A", "fill": "transparent", "strokeWidth": 1.4, "opacity": 1}, "encoding": {"x": {"field": "x", "type": "quantitative"}, "y": {"field": "y", "type": "quantitative"}}},
    {"transform": [{"filter": "datum.s == 'd14'"}], "mark": {"type": "point", "shape": "M0.7,0A0.7,0.7,0,1,1,-0.7,0A0.7,0.7,0,1,1,0.7,0Z", "size": 100, "stroke": "#3355EE", "fill": "#3355EE", "strokeWidth": 1.4, "opacity": 1}, "encoding": {"x": {"field": "x", "type": "quantitative"}, "y": {"field": "y", "type": "quantitative"}}},
    {"transform": [{"filter": "datum.s == 'nd'"}], "mark": {"type": "point", "shape": "M0,-0.85L0.7,0L0,0.85L-0.7,0Z", "size": 100, "stroke": "#C040E8", "fill": "#C040E8", "strokeWidth": 1.4, "opacity": 1}, "encoding": {"x": {"field": "x", "type": "quantitative"}, "y": {"field": "y", "type": "quantitative"}}},
    {"transform": [{"filter": "datum.x < -5"}],
     "mark": {"type": "point", "opacity": 1},
     "encoding": {
       "x": {"field": "x", "type": "quantitative"},
       "y": {"field": "y", "type": "quantitative"},
       "shape": {"field": "s", "type": "nominal", "scale": {"domain": ["nm", "d120", "d60", "d21", "d14", "nd"], "range": ["M-2,0H2M0,-0.69L0.69,0.52L-0.69,0.52Z", "M-2,0H2M-0.69,0H0.69M0,-0.69V0.69", "M-2,0H2M-0.6,-0.6L0.6,0.6M-0.6,0.6L0.6,-0.6", "M-2,0H2M0,-0.69L0.69,0L0,0.69L-0.69,0Z", "M-2,0H2M0.46,0A0.46,0.46,0,1,1,-0.46,0A0.46,0.46,0,1,1,0.46,0Z", "M-2,0H2M0,-0.55L0.45,0L0,0.55L-0.45,0Z"]},
         "legend": {"orient": "none", "legendX": 541, "legendY": 147, "title": null, "symbolSize": 210, "symbolStrokeWidth": 1.5, "symbolOpacity": 1, "labelFontSize": 14, "labelFont": "Liberation Sans", "labelColor": "black", "padding": 11, "rowPadding": 4.5, "labelOffset": 21, "strokeColor": "black", "fillColor": "white", "labelExpr": "datum.label == 'nm' ? 'No measures' : datum.label == 'd120' ? '120-day delay' : datum.label == 'd60' ? '60-day delay' : datum.label == 'd21' ? '21-day delay' : datum.label == 'd14' ? '14-day delay' : 'No delay'"}},
       "fill": {"field": "s", "type": "nominal", "scale": {"domain": ["nm", "d120", "d60", "d21", "d14", "nd"], "range": ["white", "transparent", "transparent", "white", "#3355EE", "#C040E8"]},
         "legend": {"orient": "none", "legendX": 541, "legendY": 147, "title": null, "symbolSize": 210, "symbolStrokeWidth": 1.5, "symbolOpacity": 1, "labelFontSize": 14, "labelFont": "Liberation Sans", "labelColor": "black", "padding": 11, "rowPadding": 4.5, "labelOffset": 21, "strokeColor": "black", "fillColor": "white", "labelExpr": "datum.label == 'nm' ? 'No measures' : datum.label == 'd120' ? '120-day delay' : datum.label == 'd60' ? '60-day delay' : datum.label == 'd21' ? '21-day delay' : datum.label == 'd14' ? '14-day delay' : 'No delay'"}},
       "color": {"field": "s", "type": "nominal", "scale": {"domain": ["nm", "d120", "d60", "d21", "d14", "nd"], "range": ["#FF0000", "#EE82EE", "#000000", "#70E81A", "#3355EE", "#C040E8"]},
         "legend": {"orient": "none", "legendX": 541, "legendY": 147, "title": null, "symbolSize": 210, "symbolStrokeWidth": 1.5, "symbolOpacity": 1, "labelFontSize": 14, "labelFont": "Liberation Sans", "labelColor": "black", "padding": 11, "rowPadding": 4.5, "labelOffset": 21, "strokeColor": "black", "fillColor": "white", "labelExpr": "datum.label == 'nm' ? 'No measures' : datum.label == 'd120' ? '120-day delay' : datum.label == 'd60' ? '60-day delay' : datum.label == 'd21' ? '21-day delay' : datum.label == 'd14' ? '14-day delay' : 'No delay'"}}
     }}
  ]
}
]
}
